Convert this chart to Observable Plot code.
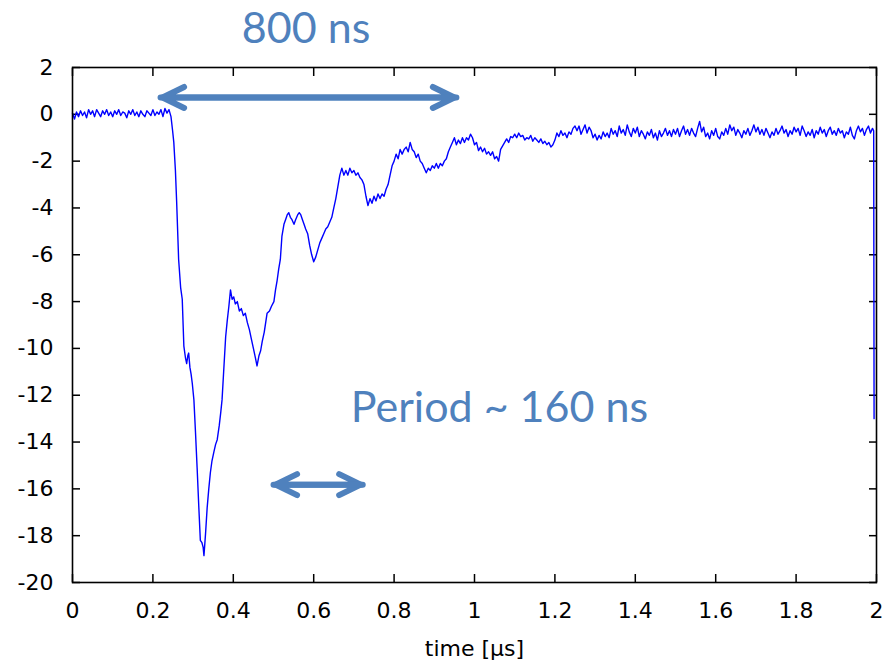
<!DOCTYPE html>
<html><head><meta charset="utf-8">
<script src="https://cdn.jsdelivr.net/npm/d3@7"></script>
<script src="https://cdn.jsdelivr.net/npm/@observablehq/plot@0.6"></script>
<style>body{margin:0;background:#fff} #chart svg{display:block}</style>
</head><body><div id="chart"></div>
<script>
const xTicks = [0, 0.2, 0.4, 0.6, 0.8, 1, 1.2, 1.4, 1.6, 1.8, 2];
const xTickLabels = ["0", "0.2", "0.4", "0.6", "0.8", "1", "1.2", "1.4", "1.6", "1.8", "2"];
const yTicks = [-20, -18, -16, -14, -12, -10, -8, -6, -4, -2, 0, 2];
const xLabel = "time [µs]";

// [time in µs, signal]
const signal = [
[0,0.05],[0.005,-0.2],[0.01,0.1],[0.015,-0.1],[0.02,0.15],[0.025,-0.05],[0.03,0.1],[0.035,-0.15],[0.04,0.2],[0.045,0.0],
[0.05,0.15],[0.055,-0.1],[0.06,0.2],[0.065,0.05],[0.07,-0.1],[0.075,0.15],[0.08,0.0],[0.085,0.2],[0.09,-0.05],[0.095,0.1],
[0.1,-0.1],[0.105,0.15],[0.11,0.0],[0.115,0.2],[0.12,-0.05],[0.125,0.1],[0.13,0.05],[0.135,-0.15],[0.14,0.15],[0.145,0.0],
[0.15,0.2],[0.155,-0.05],[0.16,0.1],[0.165,-0.1],[0.17,0.15],[0.175,0.0],[0.18,-0.1],[0.185,0.15],[0.19,0.05],[0.195,-0.05],
[0.2,0.2],[0.205,-0.05],[0.21,0.1],[0.215,0.0],[0.22,0.2],[0.225,-0.1],[0.23,0.25],[0.235,0.05],[0.24,0.2],
[0.245,-0.1],[0.249,-0.7],[0.252,-1.2],[0.256,-2.4],[0.259,-3.7],[0.264,-6.2],[0.269,-7.4],[0.273,-7.9],[0.277,-9.9],
[0.281,-10.4],[0.284,-10.65],[0.287,-10.3],[0.289,-10.2],[0.292,-10.8],[0.295,-11.1],[0.298,-11.5],[0.302,-12.2],
[0.306,-13.6],[0.31,-15.1],[0.314,-16.7],[0.318,-18.2],[0.322,-18.3],[0.325,-18.5],[0.327,-18.85],[0.331,-17.9],
[0.335,-16.8],[0.339,-16.0],[0.343,-15.3],[0.347,-14.8],[0.352,-14.4],[0.356,-14.1],[0.36,-13.9],[0.365,-13.3],
[0.369,-12.7],[0.372,-12.2],[0.376,-11.0],[0.381,-9.5],[0.385,-8.8],[0.389,-8.2],[0.393,-7.5],[0.397,-7.9],
[0.401,-7.8],[0.405,-8.1],[0.41,-8.0],[0.415,-8.4],[0.42,-8.3],[0.425,-8.6],[0.43,-8.5],[0.435,-8.9],[0.44,-9.2],
[0.445,-9.6],[0.45,-10.0],[0.455,-10.4],[0.459,-10.75],[0.464,-10.3],[0.468,-10.1],[0.472,-9.7],[0.477,-9.3],
[0.484,-8.5],[0.49,-8.4],[0.495,-8.2],[0.501,-8.0],[0.505,-7.5],[0.509,-7.1],[0.513,-6.6],[0.517,-6.2],[0.521,-5.2],
[0.526,-4.7],[0.53,-4.5],[0.534,-4.3],[0.538,-4.2],[0.542,-4.4],[0.546,-4.5],[0.551,-4.7],[0.555,-4.5],[0.56,-4.3],
[0.564,-4.2],[0.568,-4.3],[0.572,-4.5],[0.576,-4.7],[0.58,-4.9],[0.585,-5.1],[0.59,-5.6],[0.595,-6.0],
[0.6,-6.3],[0.605,-6.1],[0.61,-5.8],[0.615,-5.5],[0.62,-5.3],[0.625,-5.1],[0.63,-4.9],[0.635,-4.8],[0.64,-4.6],
[0.645,-4.4],[0.65,-4.0],[0.655,-3.6],[0.66,-3.1],[0.665,-2.6],[0.67,-2.3],[0.675,-2.6],[0.68,-2.4],[0.685,-2.6],
[0.69,-2.3],[0.695,-2.5],[0.7,-2.4],[0.705,-2.6],[0.71,-2.5],[0.715,-2.7],[0.72,-2.8],[0.725,-3.0],[0.73,-3.5],
[0.735,-3.9],[0.74,-3.6],[0.745,-3.8],[0.75,-3.5],[0.755,-3.7],[0.76,-3.4],[0.765,-3.6],[0.77,-3.4],[0.775,-3.5],
[0.78,-3.2],[0.785,-3.0],[0.79,-2.6],[0.795,-2.2],[0.8,-2.0],[0.805,-1.7],[0.81,-1.9],[0.815,-1.5],[0.82,-1.7],
[0.825,-1.5],[0.83,-1.4],[0.835,-1.6],[0.84,-1.2],[0.845,-1.5],[0.85,-1.6],[0.855,-1.85],[0.86,-1.7],[0.865,-2.0],
[0.87,-2.1],[0.875,-2.3],[0.88,-2.5],[0.885,-2.3],[0.89,-2.4],[0.895,-2.2],[0.9,-2.3],[0.905,-2.1],[0.91,-2.3],
[0.915,-2.1],[0.92,-2.2],[0.925,-2.0],[0.93,-1.9],[0.935,-1.6],[0.94,-1.4],[0.945,-1.2],[0.95,-1.0],[0.955,-1.3],
[0.96,-1.1],[0.965,-1.25],[0.97,-1.0],[0.975,-1.2],[0.98,-1.0],[0.985,-1.1],[0.99,-0.85],[0.995,-1.0],[1.0,-1.3],
[1.005,-1.2],[1.01,-1.55],[1.015,-1.4],[1.02,-1.6],[1.025,-1.45],[1.03,-1.7],[1.035,-1.6],[1.04,-1.75],[1.045,-1.6],
[1.05,-1.9],[1.055,-1.8],[1.06,-2.0],[1.065,-1.5],[1.07,-1.35],[1.075,-1.2],[1.08,-1.05],[1.085,-1.2],[1.09,-0.95],
[1.095,-1.0],[1.1,-0.85],[1.105,-1.0],[1.11,-0.8],[1.115,-0.95],[1.12,-0.9],[1.125,-1.1],[1.13,-1.0],[1.135,-1.05],
[1.14,-0.9],[1.145,-1.15],[1.15,-1.0],[1.155,-1.1],[1.16,-1.2],[1.165,-1.05],[1.17,-1.25],[1.175,-1.15],[1.18,-1.3],
[1.185,-1.2],[1.19,-1.4],[1.195,-1.3],[1.2,-1.1],[1.205,-0.8],[1.21,-0.95],[1.215,-0.7],[1.22,-0.9],[1.225,-0.8],
[1.23,-1.0],[1.235,-0.75],[1.24,-0.85],[1.245,-0.6],[1.25,-0.5],[1.255,-0.7],
[1.26,-0.5],[1.265,-0.85],[1.27,-0.65],[1.275,-0.45],[1.28,-0.8],[1.285,-0.55],[1.29,-0.7],[1.295,-1.0],[1.3,-0.85],
[1.305,-1.1],[1.31,-0.9],[1.315,-1.05],[1.32,-0.75],[1.325,-0.95],[1.33,-0.8],[1.335,-1.0],[1.34,-0.6],[1.345,-0.85],
[1.35,-0.7],[1.355,-0.95],[1.36,-0.5],[1.365,-0.8],[1.37,-0.65],[1.375,-0.9],[1.38,-0.45],[1.385,-0.75],[1.39,-0.95],
[1.395,-0.6],[1.4,-0.8],[1.405,-0.55],[1.41,-0.95],[1.415,-0.7],[1.42,-0.85],[1.425,-1.05],[1.43,-0.75],[1.435,-0.9],
[1.44,-0.65],[1.445,-1.0],[1.45,-0.8],[1.455,-1.1],[1.46,-0.7],[1.465,-0.95],[1.47,-0.8],[1.475,-0.6],[1.48,-0.9],
[1.485,-0.7],[1.49,-0.95],[1.495,-0.65],[1.5,-0.85],[1.505,-0.6],[1.51,-0.95],[1.515,-0.7],[1.52,-0.5],[1.525,-0.85],
[1.53,-0.65],[1.535,-0.9],[1.54,-0.6],[1.545,-0.8],[1.55,-0.95],[1.555,-0.6],[1.56,-0.3],[1.565,-0.75],[1.57,-0.55],
[1.575,-0.95],[1.58,-0.8],[1.585,-1.05],[1.59,-0.7],[1.595,-0.9],[1.6,-0.6],[1.605,-0.95],[1.61,-1.05],[1.615,-0.75],
[1.62,-0.9],[1.625,-0.6],[1.63,-0.85],[1.635,-0.45],[1.64,-0.7],[1.645,-0.55],[1.65,-0.9],[1.655,-0.65],[1.66,-0.8],
[1.665,-1.0],[1.67,-0.7],[1.675,-0.85],[1.68,-0.6],[1.685,-0.9],[1.69,-0.7],[1.695,-0.45],[1.7,-0.75],[1.705,-0.55],
[1.71,-0.85],[1.715,-0.65],[1.72,-0.9],[1.725,-0.6],[1.73,-0.8],[1.735,-1.0],[1.74,-0.75],[1.745,-0.9],[1.75,-0.6],
[1.755,-0.85],[1.76,-0.7],[1.765,-0.5],[1.77,-0.8],[1.775,-0.65],[1.78,-0.95],[1.785,-0.7],[1.79,-0.85],[1.795,-0.55],
[1.8,-0.75],[1.805,-0.6],[1.81,-0.9],[1.815,-0.5],[1.82,-0.7],[1.825,-0.95],[1.83,-0.75],[1.835,-0.9],[1.84,-0.65],
[1.845,-1.0],[1.85,-0.7],[1.855,-0.85],[1.86,-0.55],[1.865,-0.8],[1.87,-0.65],[1.875,-0.95],[1.88,-0.7],[1.885,-0.55],
[1.89,-0.85],[1.895,-0.7],[1.9,-0.9],[1.905,-0.6],[1.91,-0.8],[1.915,-0.7],[1.92,-1.0],[1.925,-0.75],[1.93,-0.85],
[1.935,-0.55],[1.94,-0.9],[1.945,-1.05],[1.95,-0.7],[1.955,-0.5],[1.96,-0.75],[1.965,-0.6],[1.97,-0.9],[1.975,-0.65],
[1.98,-0.5],[1.985,-0.8],[1.99,-0.6],[1.993,-0.7],[1.994,-13]
];

// annotation arrows (double-headed) and labels, in data units
const arrowSpans = [
  {x1: 0.219, x2: 0.955, y: 0.72},
  {x1: 0.500, x2: 0.722, y: -15.82}
];
const notes = [
  {label: "800 ns", x: 0.581, y: 3.645},
  {label: "Period ~ 160 ns", x: 1.062, y: -12.57}
];

const accent = "#4f81bd";
const xLabelMap = new Map(xTicks.map((t, i) => [t, xTickLabels[i]]));
const arrowHalves = arrowSpans.flatMap(s => [
  {a: s.x1, b: s.x2, y: s.y},
  {a: s.x2, b: s.x1, y: s.y}
]);

const chart = Plot.plot({
  width: 891, height: 667,
  marginLeft: 72, marginRight: 15, marginTop: 67, marginBottom: 85,
  style: {background: "white", fontFamily: "'DejaVu Sans', sans-serif", fontSize: "22px", color: "black", overflow: "visible"},
  x: {domain: [0, 2]},
  y: {domain: [-20, 2]},
  marks: [
    Plot.axisX(xTicks, {anchor: "bottom", tickSize: -8, tickPadding: 28, strokeWidth: 1.5, tickFormat: d => xLabelMap.get(d), label: null, fontSize: 22}),
    Plot.axisX(xTicks, {anchor: "top", tickSize: -8, strokeWidth: 1.5, tickFormat: () => "", label: null}),
    Plot.axisY(yTicks, {anchor: "left", tickSize: -8, tickPadding: 27, strokeWidth: 1.5, tickFormat: d => String(d), label: null, fontSize: 22}),
    Plot.axisY(yTicks, {anchor: "right", tickSize: -8, strokeWidth: 1.5, tickFormat: () => "", label: null}),
    Plot.line(signal, {x: d => d[0], y: d => d[1], stroke: "#0000ff", strokeWidth: 1.4}),
    Plot.frame({stroke: "black", strokeWidth: 1.6}),
    Plot.text([xLabel], {text: d => d, frameAnchor: "bottom", dy: 73, fontSize: 22}),
    Plot.arrow(arrowHalves, {x1: "a", x2: "b", y1: "y", y2: "y", stroke: accent, strokeWidth: 6, headLength: 6, headAngle: 52, insetEnd: 2, strokeLinecap: "round", strokeLinejoin: "round"}),
    Plot.text(notes, {x: "x", y: "y", text: "label", fill: accent, fontSize: 43, fontFamily: "Lato, 'Open Sans', sans-serif", textAnchor: "middle"})
  ]
});
document.getElementById("chart").append(chart);
</script>
</body></html>
